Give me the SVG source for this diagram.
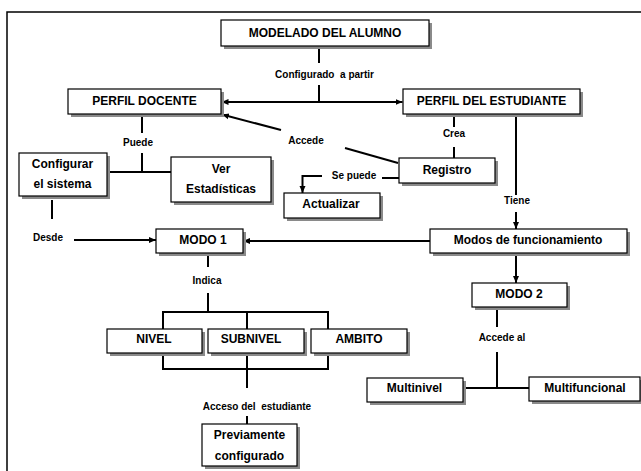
<svg xmlns="http://www.w3.org/2000/svg" width="641" height="471" viewBox="0 0 641 471">
<style>
.sh{fill:#8a8a8a}
.box{fill:#fff;stroke:#000;stroke-width:1.2}
.t{font-family:"Liberation Sans",Arial,sans-serif;font-weight:bold;font-size:12px;text-anchor:middle;fill:#000}
.l{font-family:"Liberation Sans",Arial,sans-serif;font-weight:bold;font-size:10px;text-anchor:middle;fill:#000;white-space:pre}
.c{fill:none;stroke:#000;stroke-width:2}
.a{marker-end:url(#ah)}
</style>
<defs>
<marker id="ah" markerUnits="userSpaceOnUse" markerWidth="8" markerHeight="8" refX="7" refY="4" orient="auto-start-reverse">
<path d="M0,1 L7,4 L0,7 Z" fill="#000"/>
</marker>
</defs>
<rect width="641" height="471" fill="#fff"/>
<path d="M7,471 V12 H641" fill="none" stroke="#000" stroke-width="1.5"/>

<g id="connectors">
<path class="c" d="M319,46 V63 M319,85 V102"/>
<path class="c" d="M221.5,102 H402.5" marker-start="url(#ah)" marker-end="url(#ah)"/>
<path class="c" d="M398,163 L345,148"/>
<path class="c a" d="M281,130 L222,114.5"/>
<path class="c" d="M142,114 V133 M142,153 V172 M107,172 H171"/>
<path class="c" d="M52,200 V219"/>
<path class="c a" d="M74,240 H156"/>
<path class="c" d="M454,114 V127 M454,147 V158"/>
<path class="c" d="M399,178 H382"/>
<path class="c a" d="M322,176 H302.5 V193"/>
<path class="c" d="M516,114 V195"/>
<path class="c a" d="M516,212 V229"/>
<path class="c a" d="M430,241 H243"/>
<path class="c a" d="M516,253 V283"/>
<path class="c" d="M208,253 V267 M208,293 V312 M163,329 V312 H328 V329 M247,312 V329 M163,353 V369 H328 V353 M247,353 V388 M247,416 V424"/>
<path class="c" d="M497,307 V327 M497,352 V388 M463,388 H529"/>
</g>

<g id="labels">
<text class="l" x="324.5" y="78">Configurado  a partir</text>
<text class="l" x="138" y="146">Puede</text>
<text class="l" x="306" y="144">Accede</text>
<text class="l" x="354" y="179">Se puede</text>
<text class="l" x="454" y="137">Crea</text>
<text class="l" x="517" y="204">Tiene</text>
<text class="l" x="48" y="241">Desde</text>
<text class="l" x="207" y="284">Indica</text>
<text class="l" x="257" y="410">Acceso del  estudiante</text>
<text class="l" x="502" y="341">Accede al</text>
</g>

<g id="modelado"><rect class="sh" x="224" y="23" width="208" height="26"/><rect class="box" x="221" y="20" width="208" height="26"/><text class="t" x="325" y="37">MODELADO DEL ALUMNO</text></g>
<g id="perfil-docente"><rect class="sh" x="71" y="92" width="153" height="25"/><rect class="box" x="68" y="89" width="153" height="25"/><text class="t" x="144.5" y="105">PERFIL DOCENTE</text></g>
<g id="perfil-estudiante"><rect class="sh" x="406" y="92" width="177" height="25"/><rect class="box" x="403" y="89" width="177" height="25"/><text class="t" x="491.5" y="105">PERFIL DEL ESTUDIANTE</text></g>
<g id="configurar"><rect class="sh" x="22" y="156" width="88" height="43"/><rect class="box" x="19" y="153" width="88" height="43"/><text class="t" x="62.5" y="168">Configurar</text><text class="t" x="62.5" y="188">el sistema</text></g>
<g id="estadisticas"><rect class="sh" x="174" y="160" width="100" height="45"/><rect class="box" x="171" y="157" width="100" height="45"/><text class="t" x="221" y="173">Ver</text><text class="t" x="221" y="193">Estadísticas</text></g>
<g id="registro"><rect class="sh" x="402" y="161" width="96" height="25"/><rect class="box" x="399" y="158" width="96" height="25"/><text class="t" x="447" y="174">Registro</text></g>
<g id="actualizar"><rect class="sh" x="287" y="196" width="96" height="25"/><rect class="box" x="284" y="193" width="96" height="25"/><text class="t" x="331" y="208">Actualizar</text></g>
<g id="modo1"><rect class="sh" x="159" y="232" width="87" height="24"/><rect class="box" x="156" y="229" width="87" height="24"/><text class="t" x="203" y="244">MODO 1</text></g>
<g id="modos"><rect class="sh" x="433" y="232" width="197" height="24"/><rect class="box" x="430" y="229" width="197" height="24"/><text class="t" x="528" y="244">Modos de funcionamiento</text></g>
<g id="modo2"><rect class="sh" x="475" y="286" width="95" height="24"/><rect class="box" x="472" y="283" width="95" height="24"/><text class="t" x="519" y="298">MODO 2</text></g>
<g id="nivel"><rect class="sh" x="110" y="332" width="95" height="24"/><rect class="box" x="107" y="329" width="95" height="24"/><text class="t" x="154" y="343">NIVEL</text></g>
<g id="subnivel"><rect class="sh" x="211" y="332" width="96" height="24"/><rect class="box" x="208" y="329" width="96" height="24"/><text class="t" x="251" y="343">SUBNIVEL</text></g>
<g id="ambito"><rect class="sh" x="314" y="332" width="96" height="24"/><rect class="box" x="311" y="329" width="96" height="24"/><text class="t" x="359" y="343">AMBITO</text></g>
<g id="multinivel"><rect class="sh" x="370" y="381" width="96" height="24"/><rect class="box" x="367" y="378" width="96" height="24"/><text class="t" x="414.5" y="392">Multinivel</text></g>
<g id="multifuncional"><rect class="sh" x="532" y="380" width="111" height="24"/><rect class="box" x="529" y="377" width="111" height="24"/><text class="t" x="585" y="392">Multifuncional</text></g>
<g id="previamente"><rect class="sh" x="205" y="427" width="95" height="42"/><rect class="box" x="202" y="424" width="95" height="42"/><text class="t" x="249.5" y="439">Previamente</text><text class="t" x="249.5" y="460">configurado</text></g>
</svg>
